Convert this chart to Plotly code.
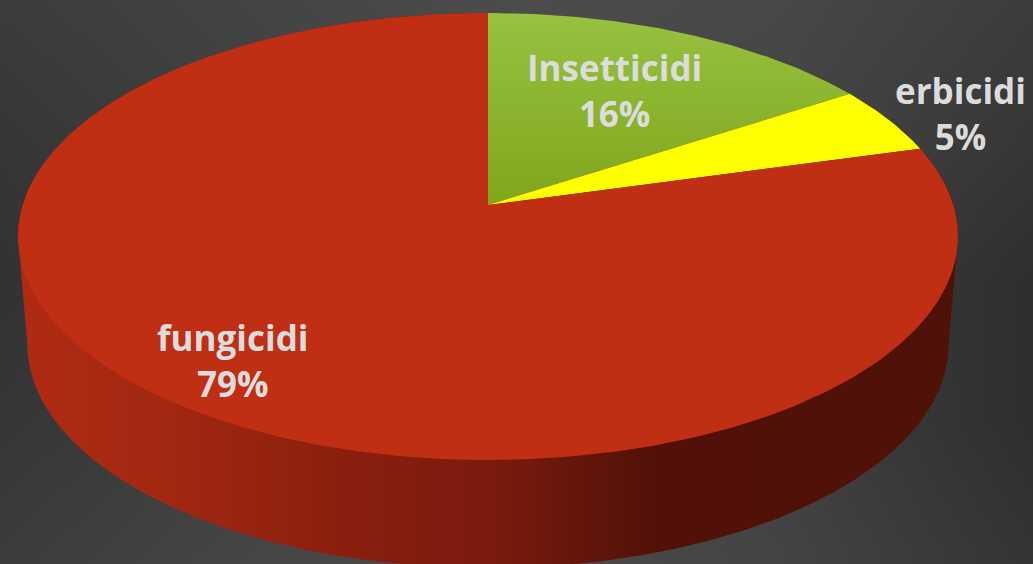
import numpy as np
import plotly.graph_objects as go

# Data
categories = ["Insetticidi", "erbicidi", "fungicidi"]
shares = [15.8, 4.9, 79.3]

# Styling
slice_fills = ["#8db52e", "#ffff00", "#c02e14"]
text_color = "#dcdcdc"
label_x = [614, 960, 233]
label_y = [90, 113, 360]
bg_x = [0, 258, 516, 775, 1033]
bg_y = [0, 140, 282, 423, 564]
bg_levels = [
    [60, 68, 76, 72, 60],
    [54, 64, 74, 68, 54],
    [50, 60, 70, 62, 46],
    [54, 64, 70, 64, 46],
    [60, 70, 76, 68, 52],
]

# Perspective view of the pie disc
CX, CY, A, Q, K = 488, 205, 465.3, -190.2, 0.1409
DEPTH, SHRINK = 108, 0.98


def rim(theta, lower=False):
    u, v = np.sin(theta), np.cos(theta)
    d = 1 + K * v
    x, y = A * u / d, (CY + Q * v) / d
    if lower:
        x = x * SHRINK
        y = y + DEPTH
    return CX + x, y


def arc(a0, a1, lower=False):
    n = max(2, int(abs(a1 - a0) * 90))
    return rim(np.linspace(a0, a1, n), lower)


fig = go.Figure()

fig.add_trace(go.Heatmap(x=bg_x, y=bg_y, z=bg_levels, zsmooth="best", showscale=False,
                         zmin=0, zmax=255, hoverinfo="skip",
                         colorscale=[[0, "#000000"], [1, "#ffffff"]]))

# Side wall of the disc
right = np.arccos(-K)
left = 2 * np.pi - right
xf, yf = arc(right, left, lower=True)
xb, yb = arc(left, right + 2 * np.pi)
fig.add_trace(go.Scatter(
    x=np.r_[xf, xb], y=np.r_[yf, yb], mode="lines", line=dict(width=0), fill="toself",
    hoverinfo="skip",
    fillgradient=dict(type="horizontal", colorscale=[
        [0.0, "#b02a12"], [0.15, "#a22812"], [0.35, "#8a1e0e"], [0.5, "#7a1b0d"],
        [0.68, "#521108"], [1.0, "#4e1108"]]),
))

# Top face slices, clockwise from 12 o'clock
edges = 2 * np.pi * np.cumsum([0] + shares) / sum(shares)
for i, name in enumerate(categories):
    x, y = arc(edges[i], edges[i + 1])
    kw = dict(fillcolor=slice_fills[i])
    if i == 0:
        kw = dict(fillgradient=dict(type="vertical", colorscale=[
            [0, "#7fa61c"], [1, "#97c140"]]))
    fig.add_trace(go.Scatter(x=np.r_[CX, x, CX], y=np.r_[CY, y, CY], mode="lines",
                             line=dict(width=0), fill="toself", name=name,
                             hoverinfo="skip", **kw))

for name, share, lx, ly in zip(categories, shares, label_x, label_y):
    fig.add_annotation(x=lx, y=ly, text=f"{name}<br>{share:.0f}%", showarrow=False,
                       font=dict(family="Open Sans", size=35, color=text_color, weight="bold"),
                       align="center")

fig.update_xaxes(range=[0, 1033], visible=False, fixedrange=True)
fig.update_yaxes(range=[564, 0], visible=False, fixedrange=True)
fig.update_layout(width=1033, height=564, margin=dict(l=0, r=0, t=0, b=0),
                  paper_bgcolor="#404040", plot_bgcolor="#404040", showlegend=False)

fig.write_html("out.html", config={"displayModeBar": False},
               post_script="document.body.style.margin='0';document.body.style.overflow='hidden';")
